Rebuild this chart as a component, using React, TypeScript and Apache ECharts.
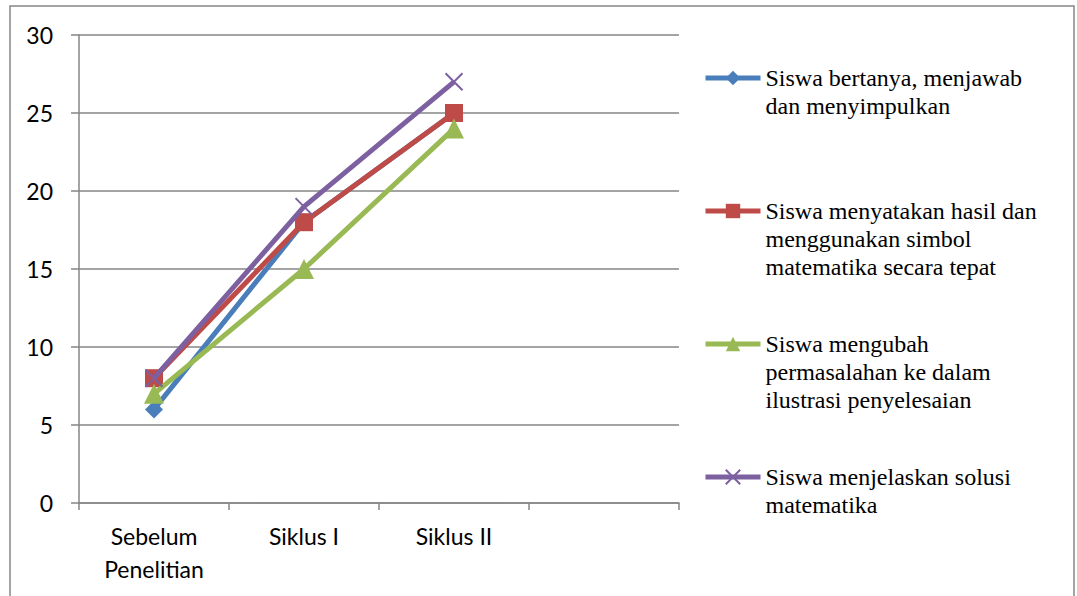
import React, { useEffect, useRef } from "react";
import * as echarts from "echarts";

const categories = ["Sebelum\nPenelitian", "Siklus I", "Siklus II", ""];
const yTicks = { min: 0, max: 30, interval: 5 };

const seriesNames = [
  "Siswa bertanya, menjawab\ndan menyimpulkan",
  "Siswa menyatakan hasil dan\nmenggunakan simbol\nmatematika secara tepat",
  "Siswa mengubah\npermasalahan ke dalam\nilustrasi penyelesaian",
  "Siswa menjelaskan solusi\nmatematika",
];

const bertanya = [6, 18, 25];
const menyatakan = [8, 18, 25];
const mengubah = [7, 15, 24];
const menjelaskan = [8, 19, 27];

const seriesValues = [bertanya, menyatakan, mengubah, menjelaskan];
const colors = ["#4A7EBB", "#BE4B48", "#98B954", "#7D60A0"];
const symbols = ["diamond", "rect", "triangle", "path://M0,0L10,10M10,0L0,10"];
const symbolSizes = [18, 18, 20, 17];
const legendTops = [36, 141, 274, 435];

const LH = 28;

export default function App() {
  const ref = useRef<HTMLDivElement>(null);

  useEffect(() => {
    document.body.style.margin = "0";
    const chart = echarts.init(ref.current!, undefined, { renderer: "svg" });
    const grey = "#868686";
    const serif = "Liberation Serif";
    const sans = "Lato";
    const option: any = {
      animation: false,
      backgroundColor: "#ffffff",
      grid: { left: 79, right: 398, top: 35, bottom: 93, containLabel: false },
      xAxis: {
        type: "category",
        data: categories,
        boundaryGap: true,
        axisLine: { show: true, lineStyle: { color: grey, width: 1.5 } },
        axisTick: { show: true, length: 7, alignWithLabel: false, lineStyle: { color: grey, width: 1.5 } },
        axisLabel: {
          interval: 0,
          margin: 16,
          color: "#000",
          fontFamily: sans,
          fontSize: 23,
          lineHeight: 33,
        },
        splitLine: { show: false },
      },
      yAxis: {
        type: "value",
        min: yTicks.min,
        max: yTicks.max,
        interval: yTicks.interval,
        axisLine: { show: true, lineStyle: { color: grey, width: 1.5 } },
        axisTick: { show: true, length: 8, lineStyle: { color: grey, width: 1.5 } },
        axisLabel: { margin: 26, color: "#000", fontFamily: sans, fontSize: 23 },
        splitLine: { show: true, lineStyle: { color: grey, width: 1.5 } },
      },
      legend: seriesNames.map((name, i) => ({
        data: [name],
        orient: "vertical",
        left: 703,
        top: legendTops[i],
        padding: 0,
        itemWidth: 55,
        itemHeight: 18,
        itemGap: 0,
        lineStyle: { width: 5 },
        formatter: (n: string) => {
          const lines = n.split("\n");
          const blanks = lines.slice(1).map(() => "{s|\u00a0}");
          return blanks.concat(lines.map((l) => "{t|" + l + "}")).join("\n");
        },
        textStyle: {
          fontFamily: serif,
          fontSize: 24,
          lineHeight: LH,
          color: "#000",
          rich: {
            t: { fontFamily: serif, fontSize: 24, lineHeight: LH, color: "#000" },
            s: { fontFamily: serif, fontSize: 24, lineHeight: LH, color: "#000" },
          },
        },
      })),
      series: seriesNames.map((name, i) => ({
        name,
        type: "line",
        data: seriesValues[i],
        symbol: symbols[i],
        symbolSize: symbolSizes[i],
        showSymbol: true,
        lineStyle: { color: colors[i], width: 5 },
        itemStyle:
          i === 3
            ? { color: colors[i], borderColor: colors[i], borderWidth: 2 }
            : { color: colors[i], borderColor: colors[i], borderWidth: 0 },
        emphasis: { disabled: true },
        z: 2 + i,
      })),
      graphic: [
        {
          type: "rect",
          shape: { x: 10, y: 6, width: 1064, height: 600 },
          style: { fill: "none", stroke: grey, lineWidth: 1.5 },
          silent: true,
          z: 100,
        },
      ],
    };
    chart.setOption(option);
    return () => chart.dispose();
  }, []);

  return (
    <div
      ref={ref}
      style={{ width: 1077, height: 596, position: "absolute", left: 0, top: 0 }}
    />
  );
}
